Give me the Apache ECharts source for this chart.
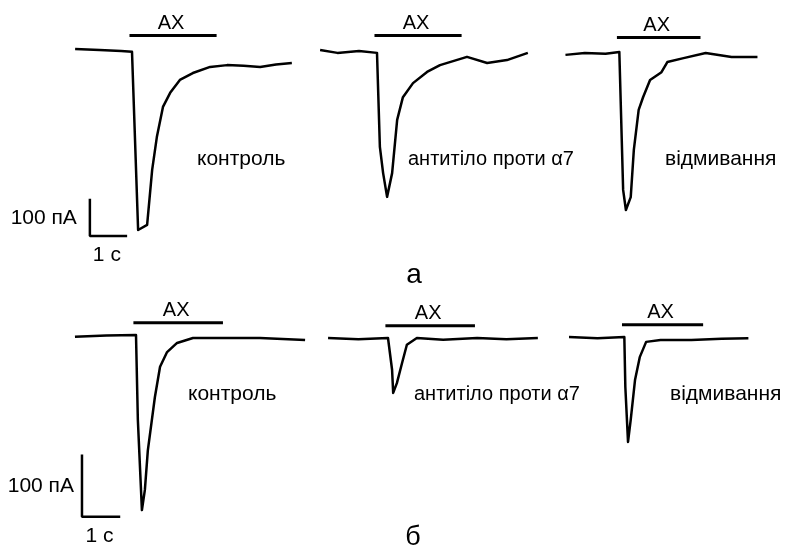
<!DOCTYPE html>
<html>
<head>
<meta charset="utf-8">
<script src="https://cdn.jsdelivr.net/npm/echarts@6/dist/echarts.min.js"></script>
<style>
  html, body { margin: 0; padding: 0; background: #fff; }
  #chart { width: 792px; height: 550px; }
</style>
</head>
<body>
<div id="chart"></div>
<script>
// traces: [time s (0 = ACh onset), current pA]
const aControl = [[-1.58, 3], [-0.9, 0], [-0.3, -3], [0, -5], [0.17, -500], [0.42, -486], [0.56, -333], [0.69, -242],
  [0.86, -158], [1.06, -119], [1.33, -83], [1.69, -64], [2.17, -47], [2.64, -42], [3.1, -44], [3.56, -47], [4.0, -40], [4.44, -36]];
const aAntibody = [[-1.58, 0], [-1.1, -8], [-0.5, -3], [0, -8], [0.08, -269], [0.17, -342], [0.28, -408], [0.42, -342],
  [0.56, -194], [0.72, -131], [1.0, -92], [1.39, -61], [1.75, -42], [2.5, -19], [3.06, -36], [3.61, -28], [4.19, -8]];
const aWash = [[-1.56, -8], [-1.0, -3], [-0.4, -5], [0, 0], [0.11, -383], [0.19, -439], [0.33, -403], [0.42, -272],
  [0.56, -161], [0.69, -125], [0.89, -78], [1.22, -56], [1.39, -28], [1.86, -17], [2.5, -3], [3.25, -14], [4.0, -14]];
const bControl = [[-1.65, -3], [-0.8, -1], [0, 0], [0.05, -139], [0.16, -287], [0.24, -254], [0.32, -189], [0.51, -102],
  [0.65, -52], [0.84, -28], [1.11, -13], [1.54, -5], [2.46, -5], [3.35, -5], [4.57, -8]];
const bAntibody = [[-1.62, 0], [-0.8, -2], [0, 0], [0.11, -52], [0.14, -90], [0.24, -74], [0.38, -41], [0.51, -11],
  [0.78, 0], [1.49, -3], [2.41, 0], [3.2, -2], [4.05, 0]];
const bWash = [[-1.65, 0], [-0.8, -2], [0, 0], [0.03, -82], [0.11, -172], [0.19, -136], [0.32, -70], [0.46, -33],
  [0.65, -8], [1.08, -5], [2.0, -5], [2.9, -3], [3.7, -2]];

const achOn = [-0.07, 2.35];          // ACh application, s
const achLevel = [40, 20];            // bar level above baseline, pA (rows а, б)
const scaleBarA = [[-1.17, -417], [-1.17, -517], [-0.17, -517]];   // 100 pA / 1 s
const scaleBarB = [[-1.46, -198], [-1.46, -298], [-0.46, -298]];
const conditions = ['контроль', 'антитіло проти α7', 'відмивання'];
const panelNames = ['а', 'б'];

// pixel origin of (t=0, I=0) for each trace and row scales
const origins = [[132, 50], [377, 50], [623, 52], [136, 335], [388, 338], [633, 337]];
const rows = [
  { pxS: 36, px100: 36, iMin: -560, iMax: 80 },
  { pxS: 37, px100: 61, iMin: -330, iMax: 60 }
];
const tMin = -2.5, tMax = 5;
const traces = [aControl, aAntibody, aWash, bControl, bAntibody, bWash];

const grids = [], xAxes = [], yAxes = [], series = [];
traces.forEach((tr, i) => {
  const r = rows[i < 3 ? 0 : 1];
  const [ox, oy] = origins[i];
  grids.push({
    left: ox + tMin * r.pxS, width: (tMax - tMin) * r.pxS,
    top: oy - r.iMax * r.px100 / 100, height: (r.iMax - r.iMin) * r.px100 / 100
  });
  xAxes.push({ type: 'value', gridIndex: i, min: tMin, max: tMax, show: false });
  yAxes.push({ type: 'value', gridIndex: i, min: r.iMin, max: r.iMax, show: false });
  series.push({
    type: 'line', xAxisIndex: i, yAxisIndex: i, data: tr, symbol: 'none', clip: false,
    lineStyle: { color: '#000', width: 2.5, join: 'round' }, animation: false
  });
  const lvl = achLevel[i < 3 ? 0 : 1];
  series.push({
    type: 'line', xAxisIndex: i, yAxisIndex: i, data: [[achOn[0], lvl], [achOn[1], lvl]],
    symbol: 'none', clip: false, lineStyle: { color: '#000', width: 3 }, animation: false
  });
});
series.push({ type: 'line', xAxisIndex: 0, yAxisIndex: 0, data: scaleBarA, symbol: 'none', clip: false,
  lineStyle: { color: '#000', width: 2.5, cap: 'square' }, animation: false });
series.push({ type: 'line', xAxisIndex: 3, yAxisIndex: 3, data: scaleBarB, symbol: 'none', clip: false,
  lineStyle: { color: '#000', width: 2.5, cap: 'square' }, animation: false });

const chart = echarts.init(document.getElementById('chart'));
chart.setOption({ animation: false, grid: grids, xAxis: xAxes, yAxis: yAxes, series: series });

// texts, placed from the data coordinates where they belong
const font = 'Liberation Sans, Arial, sans-serif';
const txt = (x, y, s, align, size) => ({
  type: 'text', x: x, y: y,
  style: { text: s, fill: '#000', font: (size || 21) + 'px ' + font, align: align || 'center', verticalAlign: 'middle' }
});
const g = [];
traces.forEach((tr, i) => {
  const lvl = achLevel[i < 3 ? 0 : 1];
  const p = chart.convertToPixel({ gridIndex: i }, [(achOn[0] + achOn[1]) / 2, lvl]);
  g.push(txt(p[0] - 2, p[1] - 12, 'АХ', 'center', 20));
});
const condPos = [[197, 159], [408, 159], [665, 159], [188, 394], [414, 394], [670, 394]];
condPos.forEach((p, i) => g.push(txt(p[0], p[1], conditions[i % 3], 'left', i % 3 === 1 ? 20 : 21)));
g.push(txt(414, 275, panelNames[0], 'center', 28));
g.push(txt(413, 538, panelNames[1], 'center', 27));
[[scaleBarA, 0, 13], [scaleBarB, 3, 8]].forEach(([sb, gi, gap]) => {
  const mid = chart.convertToPixel({ gridIndex: gi }, [sb[0][0], (sb[0][1] + sb[1][1]) / 2]);
  const bot = chart.convertToPixel({ gridIndex: gi }, [(sb[1][0] + sb[2][0]) / 2, sb[1][1]]);
  g.push(txt(mid[0] - gap, mid[1], '100 пА', 'right'));
  g.push(txt(bot[0] - 1, bot[1] + 19, '1 с'));
});
chart.setOption({ graphic: g });
</script>
</body>
</html>
